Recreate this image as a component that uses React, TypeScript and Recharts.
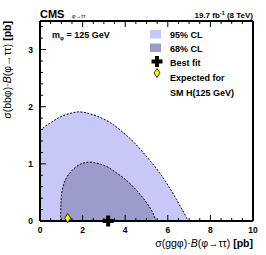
import { ComposedChart, Area, Scatter, XAxis, YAxis } from 'recharts';

// 95% CL contour (upper edge)
const outerX = [0, 0.25, 0.5, 0.75, 1.0, 1.5, 1.8, 2.2, 2.7, 3.3, 3.8, 4.4, 5.0, 5.6, 6.0, 6.4, 6.7, 6.88, 6.97];
const outerY = [1.58, 1.66, 1.72, 1.78, 1.83, 1.89, 1.91, 1.89, 1.83, 1.72, 1.58, 1.38, 1.13, 0.85, 0.63, 0.38, 0.18, 0.06, 0];

// 68% CL contour
const innerX = [0.97, 0.98, 1.0, 1.05, 1.12, 1.25, 1.4, 1.7, 2.0, 2.35, 2.8, 3.2, 3.6, 4.0, 4.4, 4.8, 5.1, 5.3, 5.45];
const innerY = [0, 0.25, 0.42, 0.55, 0.65, 0.76, 0.84, 0.95, 1.01, 1.03, 1.0, 0.94, 0.84, 0.73, 0.59, 0.42, 0.27, 0.14, 0];

const bestFit = [{ x: 3.2, y: 0 }];
const smExpected = [{ x: 1.3, y: 0.05 }];

const xMajor = [0, 2, 4, 6, 8, 10];
const yMajor = [0, 1, 2, 3];
const xTicks = Array.from({ length: 21 }, (_, i) => i * 0.5);
const yTicks = Array.from({ length: 18 }, (_, i) => Math.round(i * 2) / 10);

const xs = Array.from(new Set([...outerX, ...innerX])).sort((a, b) => a - b);
const data = xs.map((x) => {
  const i = outerX.indexOf(x);
  const j = innerX.indexOf(x);
  return { x, outer: i >= 0 ? outerY[i] : undefined, inner: j >= 0 ? innerY[j] : undefined };
});

const C95 = '#c8c8f8';
const C68 = '#9c9ccc';
const FONT = '"Liberation Sans", Arial, sans-serif';

const isMajor = (v: number, majors: number[]) => majors.some((m) => Math.abs(m - v) < 1e-6);

const Cross = ({ cx, cy }: any) => {
  const a = 5.5, t = 2;
  return (
    <path
      d={`M${cx - t},${cy - a} H${cx + t} V${cy - t} H${cx + a} V${cy + t} H${cx + t} V${cy + a} H${cx - t} V${cy + t} H${cx - a} V${cy - t} H${cx - t} Z`}
      fill="#000"
    />
  );
};

const Diamond = ({ cx, cy }: any) => (
  <path d={`M${cx},${cy - 4.5} L${cx + 3},${cy} L${cx},${cy + 4.5} L${cx - 3},${cy} Z`} fill="#ffff00" stroke="#000" strokeWidth={0.8} />
);

const BottomTick = ({ x, y, payload }: any) => {
  const major = isMajor(payload.value, xMajor);
  return (
    <g>
      <line x1={x} x2={x} y1={y} y2={y - (major ? 6 : 3)} stroke="#000" />
      {major && (
        <text x={x} y={y + 12} textAnchor="middle" fontSize={8.5} fontWeight="bold" fontFamily={FONT} fill="#000">
          {payload.value}
        </text>
      )}
    </g>
  );
};

const TopTick = ({ x, y, payload }: any) => {
  const major = isMajor(payload.value, xMajor);
  return <line x1={x} x2={x} y1={y} y2={y + (major ? 6 : 3)} stroke="#000" />;
};

const LeftTick = ({ x, y, payload }: any) => {
  const major = isMajor(payload.value, yMajor);
  return (
    <g>
      <line x1={x} x2={x + (major ? 6 : 3)} y1={y} y2={y} stroke="#000" />
      {major && (
        <text x={x - 7} y={y + 3} textAnchor="end" fontSize={8.5} fontWeight="bold" fontFamily={FONT} fill="#000">
          {Math.round(payload.value)}
        </text>
      )}
    </g>
  );
};

const RightTick = ({ x, y, payload }: any) => {
  const major = isMajor(payload.value, yMajor);
  return <line x1={x} x2={x - (major ? 6 : 3)} y1={y} y2={y} stroke="#000" />;
};

const Overlay = () => (
  <svg width={266} height={255} style={{ position: 'absolute', left: 0, top: 0, pointerEvents: 'none' }} fontFamily={FONT}>
    <text x={40} y={18} fontSize={11} fontWeight="bold">CMS</text>
    <text x={72} y={18} fontSize={5.5} fontStyle="italic">φ→ττ</text>
    <text x={253} y={18} textAnchor="end" fontSize={8} fontWeight="bold">
      19.7 fb<tspan dy={-3} fontSize={5.5}>-1</tspan><tspan dy={3}> (8 TeV)</tspan>
    </text>
    <text x={52} y={38} fontSize={9} fontWeight="bold">
      m<tspan dy={2} fontSize={5.5}>φ</tspan><tspan dy={-2}> = 125 GeV</tspan>
    </text>

    <rect x={150} y={30} width={11} height={8.5} fill={C95} />
    <text x={170} y={38} fontSize={9} fontWeight="bold">95% CL</text>
    <rect x={150} y={43.5} width={11} height={8.5} fill={C68} />
    <text x={170} y={51.5} fontSize={9} fontWeight="bold">68% CL</text>
    <Cross cx={157} cy={61.5} />
    <text x={170} y={66} fontSize={9} fontWeight="bold">Best fit</text>
    <Diamond cx={157} cy={73} />
    <text x={170} y={81} fontSize={9} fontWeight="bold">Expected for</text>
    <text x={170} y={96} fontSize={9} fontWeight="bold">SM H(125 GeV)</text>

    <text x={253} y={247} textAnchor="end" fontSize={10.5}>
      σ(ggφ)·<tspan fontStyle="italic">B</tspan>(φ→ττ) <tspan fontWeight="bold">[pb]</tspan>
    </text>
    <text x={11} y={21} textAnchor="end" fontSize={10.5} transform="rotate(-90 11 21)">
      σ(bbφ)·<tspan fontStyle="italic">B</tspan>(φ→ττ) <tspan fontWeight="bold">[pb]</tspan>
    </text>
  </svg>
);

export default function App() {
  return (
    <div style={{ position: 'absolute', left: 0, top: 0, width: 266, height: 255, background: '#fff' }}>
      <ComposedChart width={266} height={255} data={data} margin={{ top: 20, right: 12, bottom: 14, left: 10 }}>
        <XAxis
          dataKey="x"
          type="number"
          domain={[0, 10]}
          ticks={xTicks}
          interval={0}
          height={20}
          tickSize={0}
          tickMargin={0}
          tick={BottomTick}
          axisLine={{ stroke: '#000', strokeWidth: 2 }}
        />
        <XAxis
          xAxisId="top"
          orientation="top"
          dataKey="x"
          type="number"
          domain={[0, 10]}
          ticks={xTicks}
          interval={0}
          height={1}
          tickSize={0}
          tickMargin={0}
          tick={TopTick}
          axisLine={{ stroke: '#000', strokeWidth: 2 }}
        />
        <YAxis
          type="number"
          domain={[0, 3.5]}
          ticks={yTicks}
          interval={0}
          width={30}
          tickSize={0}
          tickMargin={0}
          tick={LeftTick}
          axisLine={{ stroke: '#000', strokeWidth: 2 }}
        />
        <YAxis
          yAxisId="right"
          orientation="right"
          type="number"
          domain={[0, 3.5]}
          ticks={yTicks}
          interval={0}
          width={1}
          tickSize={0}
          tickMargin={0}
          tick={RightTick}
          axisLine={{ stroke: '#000', strokeWidth: 2 }}
        />
        <Area
          type="monotone"
          dataKey="outer"
          connectNulls
          fill={C95}
          fillOpacity={1}
          stroke="#000"
          strokeWidth={1}
          strokeDasharray="2 1.5"
          isAnimationActive={false}
        />
        <Area
          type="monotone"
          dataKey="inner"
          connectNulls
          fill={C68}
          fillOpacity={1}
          stroke="#000"
          strokeWidth={1}
          strokeDasharray="2 1.5"
          isAnimationActive={false}
        />
        <Scatter data={bestFit} dataKey="y" shape={Cross} isAnimationActive={false} />
        <Scatter data={smExpected} dataKey="y" shape={Diamond} isAnimationActive={false} />
      </ComposedChart>
      <Overlay />
    </div>
  );
}
